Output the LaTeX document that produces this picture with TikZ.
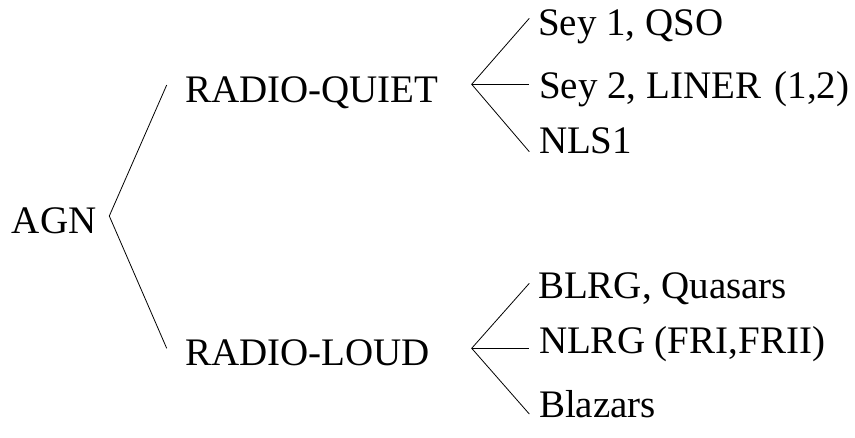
\documentclass[tikz,border=0pt]{standalone}
\usepackage{fontspec}
\setmainfont{Liberation Serif}
\begin{document}
\begin{tikzpicture}[x=1pt,y=-1pt,
  label/.style={anchor=base west,inner sep=0pt,outer sep=0pt,
    font=\fontsize{39}{47}\selectfont},
  branch/.style={draw=black,line width=0.8pt,line join=miter}]
\useasboundingbox (0,0) rectangle (855,437);

% class labels
\node[label] (agn)   at (12,233)  {AGN};
\node[label] (quiet) at (185,102) {RADIO-QUIET};
\node[label] (loud)  at (185,365) {RADIO-LOUD};

\node[label] (sey1)  at (538,35)  {Sey 1, QSO};
\node[label] (sey2)  at (539,98)  {Sey 2, LINER\hspace{0.35em}(1,2)};
\node[label] (nls1)  at (539,153) {NLS1};

\node[label] (blrg)  at (538,298) {BLRG, Quasars};
\node[label] (nlrg)  at (539,353) {NLRG (FRI,FRII)};
\node[label] (blaz)  at (539,417) {Blazars};

% fork points
\coordinate (agnFork)   at (109.3,216);
\coordinate (quietEnd)  at (166.7,85);
\coordinate (loudEnd)   at (166.7,348.3);

\coordinate (quietFork) at (471.7,84.3);
\coordinate (sey1End)   at (529.3,18.3);
\coordinate (sey2End)   at (529.3,84.3);
\coordinate (nls1End)   at (529.3,151.7);

\coordinate (loudFork)  at (471.7,348.3);
\coordinate (blrgEnd)   at (529.3,283.3);
\coordinate (nlrgEnd)   at (529.3,348.3);
\coordinate (blazEnd)   at (529.3,414);

% branches
\draw[branch] (quietEnd) -- (agnFork) -- (loudEnd);
\draw[branch] (sey1End) -- (quietFork) -- (nls1End);
\draw[branch] (quietFork) -- (sey2End);
\draw[branch] (blrgEnd) -- (loudFork) -- (blazEnd);
\draw[branch] (loudFork) -- (nlrgEnd);
\end{tikzpicture}
\end{document}
